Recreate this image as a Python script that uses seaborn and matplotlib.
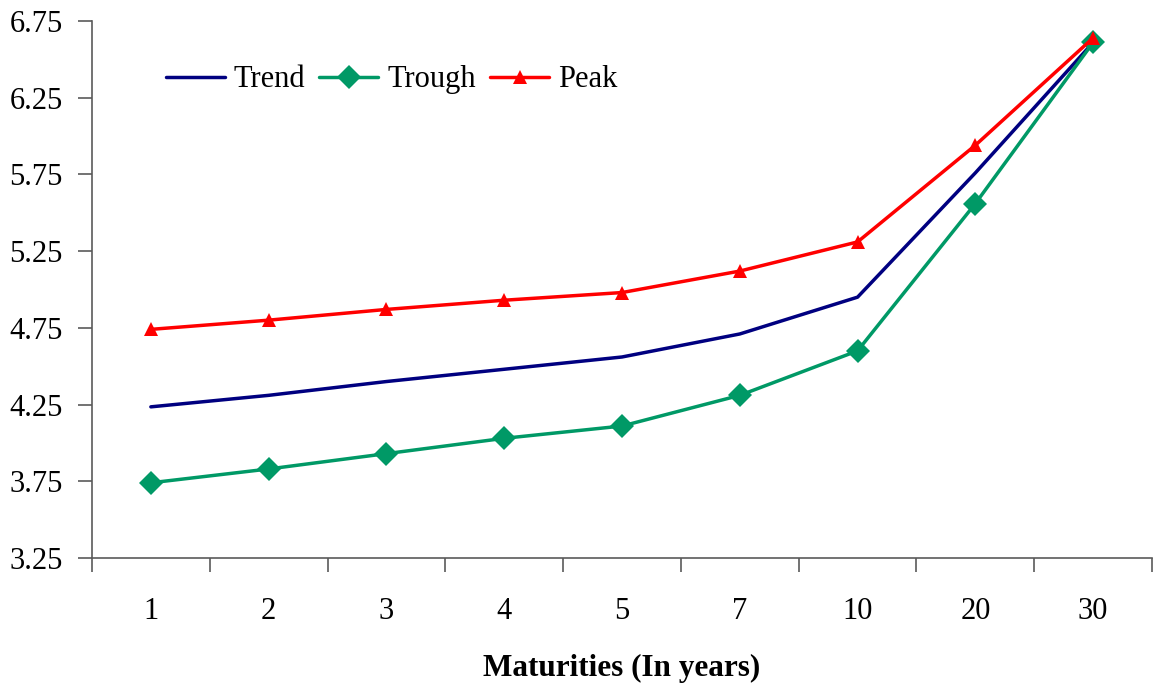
import matplotlib
matplotlib.use("Agg")
import matplotlib.pyplot as plt
import seaborn as sns
import pandas as pd
import numpy as np
from matplotlib.ticker import FixedLocator

maturities = ["1", "2", "3", "4", "5", "7", "10", "20", "30"]
trend = [4.235, 4.31, 4.40, 4.48, 4.56, 4.71, 4.95, 5.76, 6.61]
trough = [3.74, 3.83, 3.93, 4.03, 4.11, 4.31, 4.60, 5.56, 6.61]
peak = [4.74, 4.80, 4.87, 4.93, 4.98, 5.12, 5.31, 5.94, 6.64]
yticks = [3.25, 3.75, 4.25, 4.75, 5.25, 5.75, 6.25, 6.75]

series_names = ["Trend", "Trough", "Peak"]
series_values = [trend, trough, peak]

sns.set_style("white")
plt.rcParams["font.family"] = ["Liberation Serif", "DejaVu Serif"]
plt.rcParams["text.color"] = "black"
plt.rcParams["axes.labelcolor"] = "black"

fig = plt.figure(figsize=(11.54, 6.88), dpi=100)
ax = fig.add_axes([0.0797, 0.189, 0.9186, 0.7805])

colors = {"Trend": "#000080", "Trough": "#009966", "Peak": "#FF0000"}
markers = {"Trend": None, "Trough": "D", "Peak": "^"}
sizes_ms = {"Trend": 0, "Trough": 12.5, "Peak": 9.5}

for name, vals in zip(series_names, series_values):
    df = pd.DataFrame({"Maturity": maturities, "Yield": vals})
    kw = {}
    if markers[name]:
        kw = dict(marker=markers[name], markersize=sizes_ms[name], markeredgewidth=0)
    sns.lineplot(data=df, x="Maturity", y="Yield", color=colors[name], sort=False,
                 linewidth=2.5, ax=ax, label=name, **kw)

ax.set_xlim(-0.5, len(maturities) - 0.5)
ax.set_ylim(3.25, 6.75)
ax.set_yticks(yticks)
ax.set_yticklabels([f"{v:.2f}" for v in yticks])

for s in ["top", "right"]:
    ax.spines[s].set_visible(False)
for s in ["left", "bottom"]:
    ax.spines[s].set_color("#5a5a5a")
    ax.spines[s].set_linewidth(1.2)

ax.xaxis.set_minor_locator(FixedLocator(np.arange(-0.5, len(maturities), 1.0)))
ax.tick_params(axis="x", which="major", length=0, pad=28, labelsize=22, labelcolor="black")
ax.tick_params(axis="x", which="minor", length=10, width=1.2, color="#5a5a5a", direction="out", bottom=True)
ax.tick_params(axis="y", which="major", length=10, width=1.2, color="#5a5a5a", direction="out", left=True,
               pad=11, labelsize=22, labelcolor="black")

ax.set_xlabel("Maturities (In years)", fontsize=22.5, fontweight="bold", labelpad=20, color="black")
ax.set_ylabel("")
ax.grid(False)

handles, labels = ax.get_legend_handles_labels()
leg = ax.legend(handles, labels, loc="upper left", bbox_to_anchor=(0.058, 0.94), ncol=3,
                frameon=False, fontsize=22, handlelength=1.93, handletextpad=0.3,
                columnspacing=0.46, borderaxespad=0)
for t in leg.get_texts():
    t.set_color("black")

fig.savefig("out.png", dpi=100, facecolor="white")
